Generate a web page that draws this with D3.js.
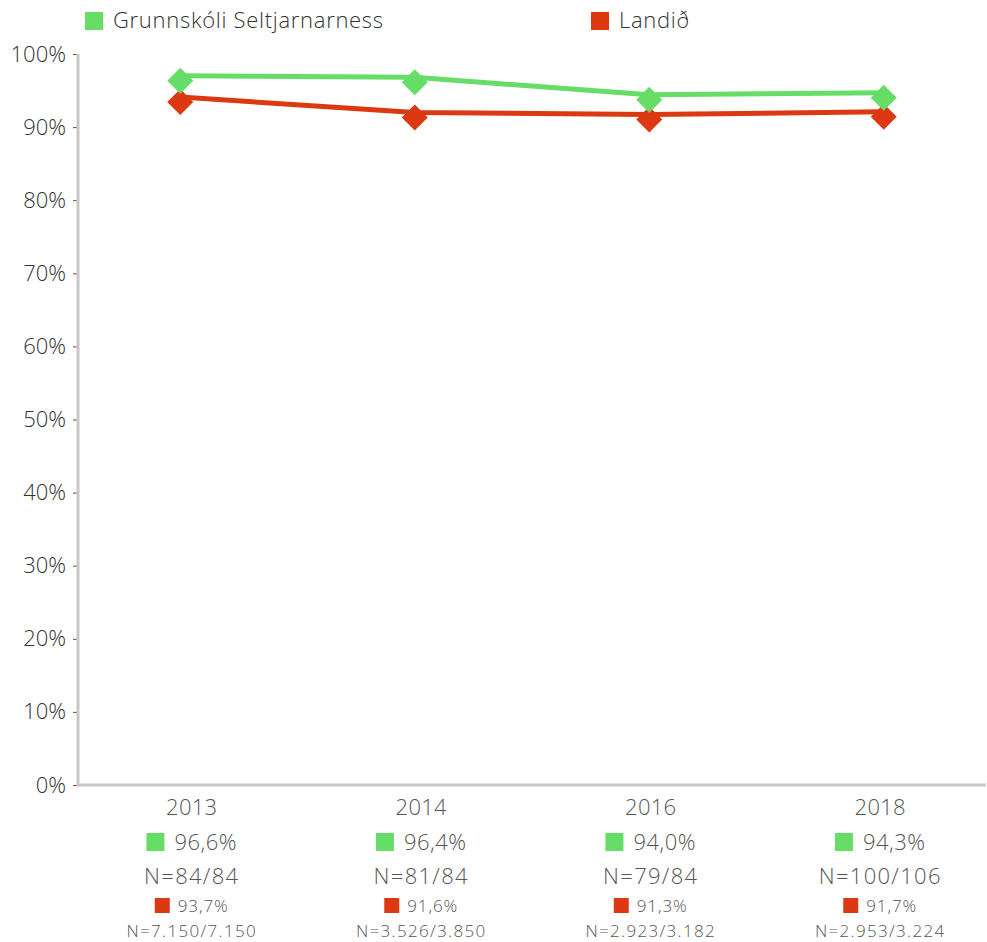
<!DOCTYPE html>
<html>
<head>
<meta charset="utf-8">
<script src="https://cdn.jsdelivr.net/npm/d3@7"></script>
<style>
  html, body { margin: 0; padding: 0; background: #fff; }
  svg { display: block; font-family: "Open Sans", "Noto Sans", sans-serif; font-weight: 300; }
</style>
</head>
<body>
<svg id="chart" width="987" height="942"></svg>
<script>
// Years surveyed
const years = ["2013", "2014", "2016", "2018"];
// Share of students (%) per year
const schoolValues = [96.6, 96.4, 94.0, 94.3];
const nationalValues = [93.7, 91.6, 91.3, 91.7];
// Respondent counts shown under each year
const schoolCounts = ["N=84/84", "N=81/84", "N=79/84", "N=100/106"];
const nationalCounts = ["N=7.150/7.150", "N=3.526/3.850", "N=2.923/3.182", "N=2.953/3.224"];
const seriesNames = ["Grunnskóli Seltjarnarness", "Landið"];
const yTicks = [0, 10, 20, 30, 40, 50, 60, 70, 80, 90, 100];

const GREEN = "#66dd66";
const RED = "#dc3912";
const FONT = "'Open Sans', 'Noto Sans', sans-serif";
const fmt = v => d3.format(".1f")(v).replace(".", ",") + "%";

const svg = d3.select("#chart");

// Marks and the category labels sit on slightly different bands
const x = d3.scaleBand().domain(years).range([63, 1001]);
const xLabel = d3.scaleBand().domain(years).range([77, 995]);
const y = d3.scaleLinear().domain([0, 100]).range([785, 54]);
const cxMark = yr => x(yr) + x.bandwidth() / 2;
const cxLabel = yr => xLabel(yr) + xLabel.bandwidth() / 2;

// Y axis: labels and small ticks
const yAxis = svg.append("g").attr("transform", "translate(77,0)")
  .call(d3.axisLeft(y).tickValues(yTicks).tickFormat(d => d + "%").tickSize(4).tickPadding(7));
yAxis.select(".domain").remove();
yAxis.selectAll(".tick line").attr("stroke", "#555");
yAxis.selectAll(".tick text").attr("fill", "#333").style("font-size", "22px")
  .style("font-family", FONT).style("font-weight", 300);

// Axis frame lines
svg.append("line").attr("x1", 78).attr("x2", 78).attr("y1", y(100)).attr("y2", y(0) + 1.5)
  .attr("stroke", "#c8c8c8").attr("stroke-width", 3);
svg.append("line").attr("x1", 77).attr("x2", 986).attr("y1", y(0)).attr("y2", y(0))
  .attr("stroke", "#c8c8c8").attr("stroke-width", 3);

// Lines and diamond markers
const series = [
  { values: schoolValues, color: GREEN },
  { values: nationalValues, color: RED }
];
const line = d3.line().x((d, i) => cxMark(years[i])).y(d => y(d));
const diamond = d3.symbol().type(d3.symbolDiamond2).size(430);

series.slice().reverse().forEach(s => {
  svg.append("path").attr("d", line(s.values)).attr("transform", "translate(0,-3)")
    .attr("fill", "none").attr("stroke", s.color).attr("stroke-width", 5);
});
series.slice().reverse().forEach(s => {
  svg.append("g").selectAll("path").data(s.values).join("path")
    .attr("d", diamond)
    .attr("transform", (d, i) => `translate(${cxMark(years[i])},${y(d) + 2})`)
    .attr("fill", s.color);
});

// Legend
const legend = [
  { name: seriesNames[0], color: GREEN, x: 85 },
  { name: seriesNames[1], color: RED, x: 591 }
];
legend.forEach(l => {
  svg.append("rect").attr("x", l.x).attr("y", 12).attr("width", 18).attr("height", 18).attr("fill", l.color);
  svg.append("text").attr("x", l.x + 28).attr("y", 28).attr("fill", "#333")
    .style("font-size", "22px").style("letter-spacing", "0.7px").text(l.name);
});

// A coloured square followed by a value, centred as one group
function swatchLabel(g, cx, baseline, text, color, size, fontSize, gap, spacing) {
  const t = g.append("text").attr("y", baseline)
    .style("font-size", fontSize + "px").style("letter-spacing", spacing + "px").text(text);
  const w = t.node().getComputedTextLength();
  const start = cx - (size + gap + w) / 2;
  t.attr("x", start + size + gap);
  g.append("rect").attr("x", start).attr("y", baseline - size + 1)
    .attr("width", size).attr("height", size).attr("fill", color);
}

// Category labels with values and counts
years.forEach((yr, i) => {
  const cx = cxLabel(yr);
  const g = svg.append("g").attr("fill", "#555");
  g.append("text").attr("x", cx).attr("y", 815).attr("text-anchor", "middle")
    .style("font-size", "22px").style("letter-spacing", "0.3px").text(yr);

  swatchLabel(g, cx, 850, fmt(schoolValues[i]), GREEN, 18, 22, 10, 0.5);

  g.append("text").attr("x", cx).attr("y", 884).attr("text-anchor", "middle")
    .style("font-size", "22px").style("letter-spacing", "1.3px").text(schoolCounts[i]);

  swatchLabel(g, cx, 912, fmt(nationalValues[i]), RED, 15, 17, 8, 0.9);

  g.append("text").attr("x", cx).attr("y", 937).attr("text-anchor", "middle")
    .style("font-size", "17px").style("letter-spacing", "1.3px").text(nationalCounts[i]);
});
</script>
</body>
</html>
